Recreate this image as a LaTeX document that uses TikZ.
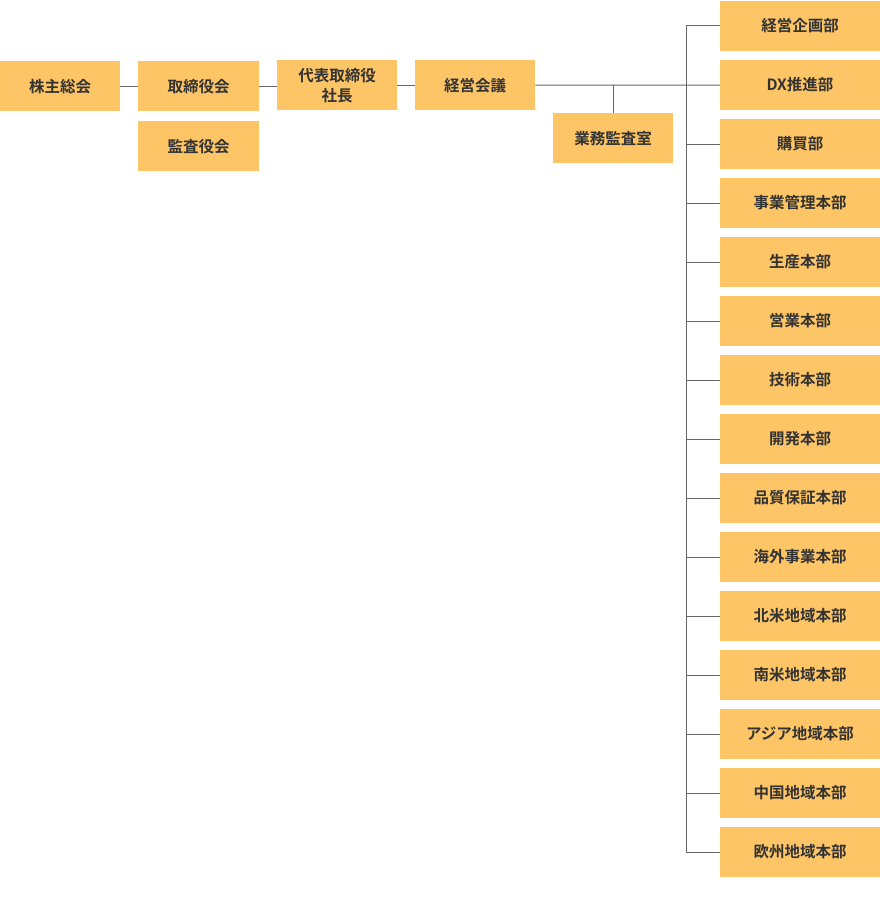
\documentclass[tikz,border=0pt]{standalone}
\usepackage{fontspec}
\setmainfont{Noto Sans CJK JP}[BoldFont={* Bold}]
\newfontfamily\jp{Noto Sans CJK JP Bold}
\definecolor{boxfill}{HTML}{FDC566}
\definecolor{txt}{HTML}{333333}
\definecolor{ln}{HTML}{666666}
\begin{document}
\begin{tikzpicture}[x=1pt,y=-1pt,
  org/.style={fill=boxfill,draw=none,inner sep=0pt,minimum height=50pt,text=txt,
    font=\jp\fontsize{15.5}{20}\selectfont,align=center,anchor=north west},
  sbox/.style={org,minimum width=120pt},
  wbox/.style={org,minimum width=160pt,anchor=center},
  conn/.style={draw=ln,line width=1pt}]
\useasboundingbox (0,0) rectangle (880,907);
\node[sbox] (kabu) at (0,61) {株主総会};
\node[sbox,minimum width=121pt] (tori) at (138,61) {取締役会};
\node[sbox,minimum width=121pt] (kansa) at (138,121) {監査役会};
\node[sbox] (pres) at (277,60) {代表取締役\\社長};
\node[sbox] (kaigi) at (415,60) {経営会議};
\node[sbox] (gyomu) at (553,113) {業務監査室};
\foreach \i/\t in {0/経営企画部,1/DX推進部,2/購買部,3/事業管理本部,4/生産本部,5/営業本部,6/技術本部,7/開発本部,8/品質保証本部,9/海外事業本部,10/北米地域本部,11/南米地域本部,12/アジア地域本部,13/中国地域本部,14/欧州地域本部}{
  \node[wbox] (d\i) at (800,{26+59*\i}) {\t};
}
\draw[conn] (kabu.east) -- (tori.west);
\draw[conn] (tori.east) -- (pres.west|-tori.east);
\draw[conn] (pres.east) -- (kaigi.west);
\coordinate (trunkTop) at (686.5,26);
\draw[conn] (kaigi.east) -- (d1.west);
\draw[conn] (gyomu.north) -- (gyomu.north|-kaigi.east);
\draw[conn] (d0.west) -- (trunkTop) |- (d14.west);
\foreach \i in {2,...,13}{
  \draw[conn] (d\i.west) -- (trunkTop|-d\i.west);
}
\end{tikzpicture}
\end{document}
